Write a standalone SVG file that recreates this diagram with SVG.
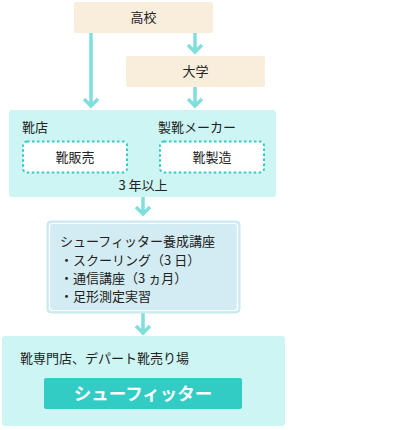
<svg xmlns="http://www.w3.org/2000/svg" width="420" height="430" viewBox="0 0 420 430">
<defs>
<style>
text{font-family:"Noto Sans CJK JP","Noto Sans",sans-serif;font-size:13px;fill:#222}
.beige{fill:#f9eddc}
.cyan{fill:#cdf5f3}
.dash{fill:#fff;stroke:#33ccc4;stroke-width:2;stroke-dasharray:2.5 2.5}
.arr{fill:none;stroke:#80dfdb;stroke-width:3.5;stroke-linejoin:miter}
.c{text-anchor:middle}
</style>
</defs>
<rect width="420" height="430" fill="#fff"/>
<g id="connectors">
<path class="arr" d="M91 33V106M84 99l7 7 7-7"/>
<path class="arr" d="M195 33V52M188 45l7 7 7-7"/>
<path class="arr" d="M195 87V106M188 99l7 7 7-7"/>
<path class="arr" d="M143 197V214M136 207l7 7 7-7"/>
<path class="arr" d="M143 313V333M136 326l7 7 7-7"/>
</g>
<g id="koukou">
<rect class="beige" x="74" y="2" width="139" height="31" rx="2"/>
<text class="c" x="143.5" y="22">高校</text>
</g>
<g id="daigaku">
<rect class="beige" x="126" y="56" width="139" height="31" rx="2"/>
<text class="c" x="195.5" y="76">大学</text>
</g>
<g id="experience">
<rect class="cyan" x="9" y="110" width="267" height="87" rx="3"/>
<text x="22" y="132">靴店</text>
<text x="158" y="132">製靴メーカー</text>
<rect class="dash" x="23" y="141.5" width="104" height="31" rx="4"/>
<text class="c" x="75" y="162">靴販売</text>
<rect class="dash" x="160" y="141.5" width="104" height="31" rx="4"/>
<text class="c" x="212" y="162">靴製造</text>
<text class="c" x="143" y="190">3 年以上</text>
</g>
<g id="course">
<rect x="47" y="221" width="193" height="92" rx="4" fill="#d3ebf2" stroke="#c3e8f1" stroke-width="1"/>
<rect x="49.5" y="223.5" width="188" height="87" rx="3" fill="none" stroke="#fff" stroke-width="1.2"/>
<text x="60" y="246">シューフィッター養成講座</text>
<text x="60" y="264.5">・スクーリング（3 日）</text>
<text x="60" y="283">・通信講座（3 ヵ月）</text>
<text x="60" y="301">・足形測定実習</text>
</g>
<g id="shoefitter">
<rect class="cyan" x="2" y="336" width="283" height="90" rx="3"/>
<text x="20" y="363">靴専門店、デパート靴売り場</text>
<rect x="44" y="378" width="198" height="31" rx="2" fill="#33ccc4"/>
<text class="c" x="143" y="400" style="fill:#fff;font-size:17.5px;font-weight:bold">シューフィッター</text>
</g>
</svg>
